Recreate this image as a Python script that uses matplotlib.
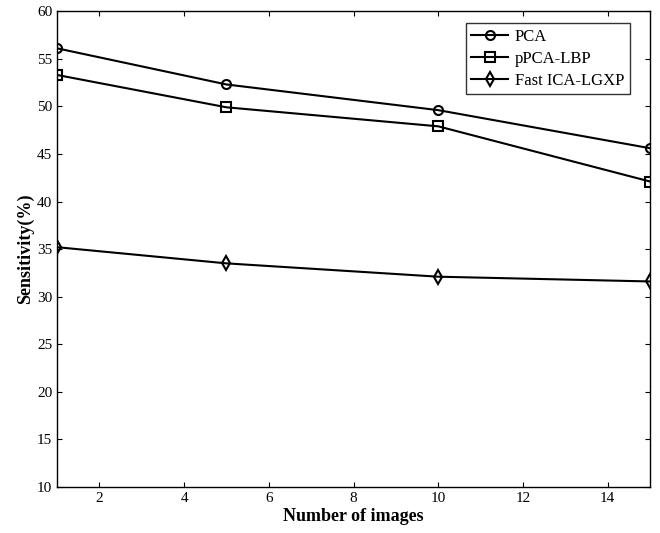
import matplotlib
matplotlib.use('Agg')
import matplotlib.pyplot as plt

plt.rcParams['font.family'] = ['Liberation Serif', 'DejaVu Serif']

x = [1, 5, 10, 15]
pca = [56.1, 52.3, 49.6, 45.6]
ppca_lbp = [53.3, 49.9, 47.9, 42.1]
fast_ica = [35.2, 33.5, 32.1, 31.6]
labels = ['PCA', 'pPCA-LBP', 'Fast ICA-LGXP']

fig = plt.figure(figsize=(6.6, 5.33), dpi=100)
ax = fig.add_axes([0.0864, 0.0863, 0.8986, 0.8927])

ax.plot(x, pca, 'k-', marker='o', mfc='none', ms=6.5, mew=1.5, lw=1.5, label=labels[0])
ax.plot(x, ppca_lbp, 'k-', marker='s', mfc='none', ms=6.5, mew=1.5, lw=1.5, label=labels[1])
ax.plot(x, fast_ica, 'k-', marker='d', mfc='none', ms=7.5, mew=1.5, lw=1.5, label=labels[2])

ax.set_xlim(1, 15)
ax.set_ylim(10, 60)
ax.set_xticks([2, 4, 6, 8, 10, 12, 14])
ax.set_yticks(range(10, 61, 5))
ax.tick_params(direction='in', top=True, right=True, labelsize=11, length=3.5)
for s in ax.spines.values():
    s.set_linewidth(1.0)

ax.set_xlabel('Number of images', fontsize=13, fontweight='bold', labelpad=2)
ax.set_ylabel('Sensitivity(%)', fontsize=13, fontweight='bold', labelpad=2)

leg = ax.legend(loc='upper right', fontsize=12, frameon=True, fancybox=False,
                edgecolor='black', handlelength=2.2, borderpad=0.35,
                labelspacing=0.35, handletextpad=0.4, borderaxespad=0,
                bbox_to_anchor=(0.966, 0.975))
leg.get_frame().set_linewidth(1.0)

plt.savefig('out.png', dpi=100)
